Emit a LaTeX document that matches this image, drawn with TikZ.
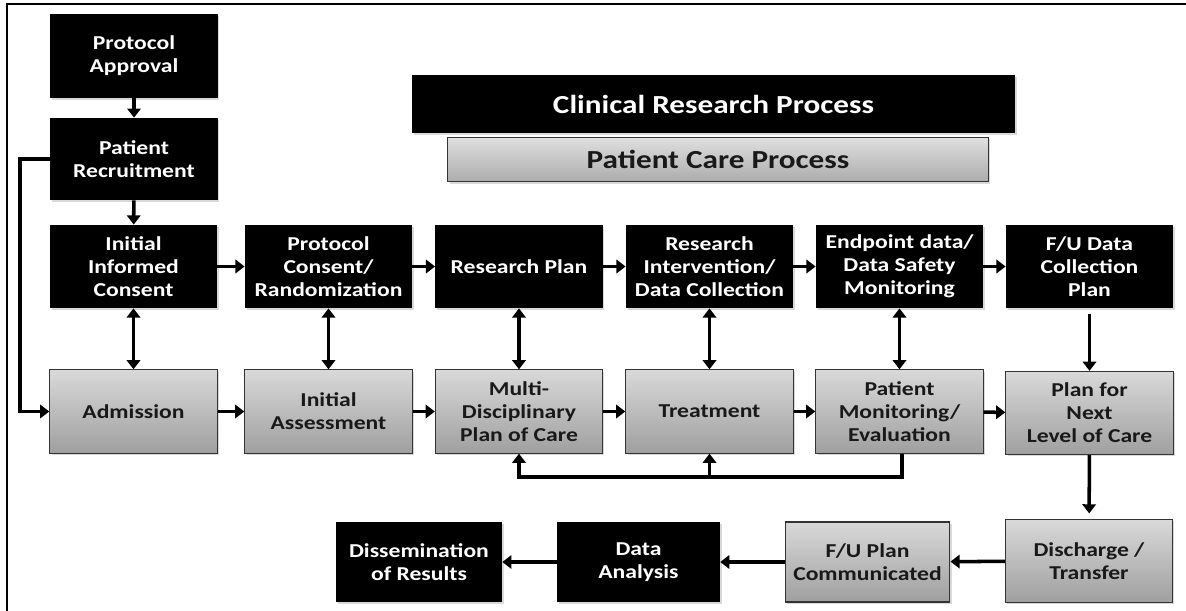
\documentclass[tikz,border=0pt]{standalone}
\usepackage{fontspec}
\setmainfont{Carlito}[FakeStretch=1.2]
\usetikzlibrary{arrows.meta,positioning,shadows}

\begin{document}
\begin{tikzpicture}[x=0.025cm, y=-0.025cm,
  box/.style={minimum width=4.18cm, minimum height=2.08cm, align=center,
              inner sep=2pt, font=\fontsize{14}{16.4}\selectfont\bfseries,
              drop shadow={shadow xshift=1.2pt, shadow yshift=-1.2pt, opacity=0.3}},
  blk/.style={box, fill=black, text=white},
  gry/.style={box, draw=black!80, line width=0.8pt, top color=gray!30,
              bottom color=gray!75, text=black!90},
  head/.style={font=\fontsize{18.5}{22}\selectfont\bfseries, align=center,
               drop shadow={shadow xshift=1.2pt, shadow yshift=-1.2pt, opacity=0.3}},
  arr/.style={-{Triangle[length=6.5pt,width=9.5pt]}, line width=2.5pt},
  arrs/.style={{Triangle[length=6.5pt,width=9.5pt]}-{Triangle[length=6.5pt,width=9.5pt]},
               line width=2.5pt}
]
\useasboundingbox (0,0) rectangle (1186,611);
\draw[line width=1.1pt] (7,611) -- (7,4) -- (1186,4);

% legend
\node[head, fill=black, text=white, minimum width=15.07cm, minimum height=1.45cm]
  (crp) at (713.5,104) {Clinical Research Process};
\node[head, draw=black!80, line width=0.8pt, top color=gray!25, bottom color=gray!65,
      text=black!90, minimum width=13.5cm, minimum height=1.12cm]
  (pcp) at (718,159.5) {Patient Care Process};

% research track
\node[blk, minimum height=2.1cm] (appr) at (134,56) {Protocol\\Approval};
\node[blk, minimum height=2.05cm] (recr) at (134,159) {Patient\\Recruitment};
\node[blk] (consent) at (133.5,266.5) {Initial\\Informed\\Consent};
\node[blk] (prot) at (328.5,266.5) {Protocol\\Consent/\\Randomization};
\node[blk] (rplan) at (519,266.5) {Research Plan};
\node[blk] (interv) at (709.5,266.5) {Research\\Intervention/\\Data Collection};
\node[blk] (endp) at (899.5,266.5) {Endpoint data/\\Data Safety\\Monitoring};
\node[blk] (fudata) at (1089.5,266.5) {F/U Data\\Collection\\Plan};

% care track
\node[gry] (admis) at (133.5,411.5) {Admission};
\node[gry] (assess) at (328.5,411.5) {Initial\\Assessment};
\node[gry] (multi) at (519,411.5) {Multi-\\Disciplinary\\Plan of Care};
\node[gry] (treat) at (709.5,411.5) {Treatment};
\node[gry] (monit) at (899.5,411.5) {Patient\\Monitoring/\\Evaluation};
\node[gry] (nextlvl) at (1089.5,413) {Plan for\\Next\\Level of Care};

% closing row
\node[gry, minimum height=2.07cm] (disch) at (1089,561) {Discharge /\\Transfer};
\node[gry, minimum width=4.12cm, minimum height=2cm] (fuplan) at (867.5,562)
  {F/U Plan\\Communicated};
\node[blk, minimum width=4.07cm, minimum height=2cm] (analy) at (638.5,562)
  {Data\\Analysis};
\node[blk, minimum width=4.15cm, minimum height=2cm] (diss) at (419,562)
  {Dissemination\\of Results};

\draw[arr] (appr) -- (recr);
\draw[arr] (recr) -- (consent);
\draw[arr] (recr.west) -- ++(-30,0) |- (admis.west);

\draw[arr] (consent) -- (prot);
\draw[arr] (prot) -- (rplan);
\draw[arr] (rplan) -- (interv);
\draw[arr] (interv) -- (endp);
\draw[arr] (endp) -- (fudata);

\draw[arrs] (consent) -- (admis);
\draw[arrs] (prot) -- (assess);
\draw[arrs] (rplan) -- (multi);
\draw[arrs] (interv) -- (treat);
\draw[arrs] (endp) -- (monit);
\draw[arr, shorten <=4pt] (fudata) -- (nextlvl);

\draw[arr] (admis) -- (assess);
\draw[arr] (assess) -- (multi);
\draw[arr] (multi) -- (treat);
\draw[arr] (treat) -- (monit);
\draw[arr] (monit) -- (nextlvl);

\coordinate (loop) at (902,477);
\draw[arr] (monit.south -| loop) -- (loop) -| (multi.south);
\draw[arr] (treat.south |- loop) -- (treat.south);

\draw[arr, shorten >=4pt] (nextlvl) -- (disch);
\draw[arr] (disch) -- (fuplan);
\draw[arr] (fuplan) -- (analy);
\draw[arr] (analy) -- (diss);
\end{tikzpicture}
\end{document}
